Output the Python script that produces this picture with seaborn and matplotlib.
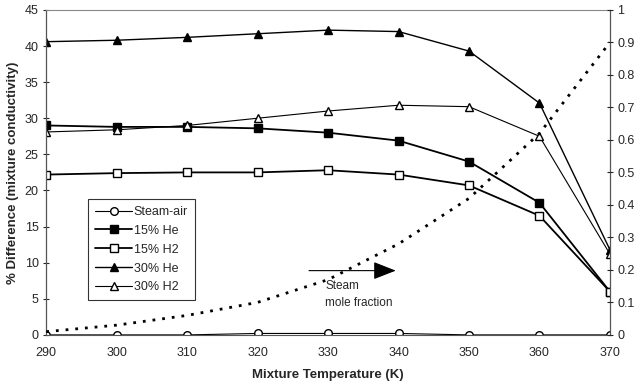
import matplotlib
matplotlib.use("Agg")
import matplotlib.pyplot as plt
import seaborn as sns
import pandas as pd

sns.set_style("white")
plt.rcParams['font.family'] = ['Liberation Sans', 'DejaVu Sans']

# Temperatures (K)
temps = [290, 300, 310, 320, 330, 340, 350, 360, 370]

# % difference in mixture conductivity
steam_air = [0.0, 0.0, 0.0, 0.2, 0.2, 0.2, 0.0, 0.0, 0.0]
he15 = [29.0, 28.8, 28.8, 28.6, 28.0, 26.9, 24.0, 18.3, 6.0]
h2_15 = [22.2, 22.4, 22.5, 22.5, 22.8, 22.2, 20.7, 16.5, 6.0]
he30 = [40.6, 40.8, 41.2, 41.7, 42.2, 42.0, 39.3, 32.1, 11.8]
h2_30 = [28.1, 28.4, 29.0, 30.0, 31.0, 31.8, 31.6, 27.5, 11.2]

# steam mole fraction (right axis)
steam_frac = [0.01, 0.03, 0.06, 0.10, 0.17, 0.28, 0.42, 0.62, 0.90]

df = pd.DataFrame({'T': temps, 'Steam-air': steam_air, '15% He': he15,
                   '15% H2': h2_15, '30% He': he30, '30% H2': h2_30})

fig = plt.figure(figsize=(6.42, 3.81), dpi=100)
ax = fig.add_axes([0.072, 0.121, 0.878, 0.853])

styles = {
    'Steam-air': dict(marker='o', mfc='white', lw=0.8, ms=5.5),
    '15% He': dict(marker='s', mfc='black', lw=1.3, ms=5.5),
    '15% H2': dict(marker='s', mfc='white', lw=1.3, ms=5.5),
    '30% He': dict(marker='^', mfc='black', lw=1.0, ms=6),
    '30% H2': dict(marker='^', mfc='white', lw=0.8, ms=6),
}
for name, st in styles.items():
    sns.lineplot(data=df, x='T', y=name, ax=ax, color='black', label=name,
                 marker=st['marker'], markerfacecolor=st['mfc'],
                 markeredgecolor='black', markersize=st['ms'], lw=st['lw'],
                 markeredgewidth=1.0)

ax.set_xlim(290, 370)
ax.set_ylim(0, 45)
ax.set_xticks(range(290, 371, 10))
ax.set_yticks(range(0, 46, 5))
ax.set_xlabel('Mixture Temperature (K)', fontweight='bold', fontsize=9.5, labelpad=7)
ax.set_ylabel('% Difference (mixture conductivity)', fontweight='bold', fontsize=9.5)
ax.tick_params(axis='both', labelsize=9, length=4, direction='inout', width=0.8)
ax.tick_params(axis='x', length=0, pad=9)
for s in ['left', 'right']:
    ax.spines[s].set_color('#555555')
    ax.spines[s].set_linewidth(0.9)
ax.spines['top'].set_color('#888888')
ax.spines['bottom'].set_color('#555555')

leg = ax.legend(loc='upper left', bbox_to_anchor=(0.074, 0.418), frameon=True,
                fancybox=False, edgecolor='black', fontsize=9,
                handlelength=3.0, handletextpad=0.1, borderpad=0.55,
                labelspacing=0.55, borderaxespad=0)
leg.get_frame().set_linewidth(0.8)

ax2 = ax.twinx()
sns.lineplot(x=temps, y=steam_frac, ax=ax2, color='black', lw=2.0,
             linestyle=(0, (1, 2.5)))
ax2.set_ylim(0, 1)
ax2.set_yticks([0, 0.1, 0.2, 0.3, 0.4, 0.5, 0.6, 0.7, 0.8, 0.9, 1])
ax2.set_yticklabels(['0', '0.1', '0.2', '0.3', '0.4', '0.5', '0.6', '0.7', '0.8', '0.9', '1'])
ax2.tick_params(axis='y', labelsize=9, length=4, direction='inout', width=0.8)
for s in ax2.spines.values():
    s.set_visible(False)

ax.annotate('', xy=(340, 8.9), xytext=(326.9, 8.9),
            arrowprops=dict(arrowstyle='-|>,head_length=1.4,head_width=0.55',
                            color='black', lw=0.8))
ax.text(329.6, 7.6, 'Steam\nmole fraction', fontsize=8.5, va='top', ha='left',
        linespacing=1.5)

fig.savefig('out.png', dpi=100)
